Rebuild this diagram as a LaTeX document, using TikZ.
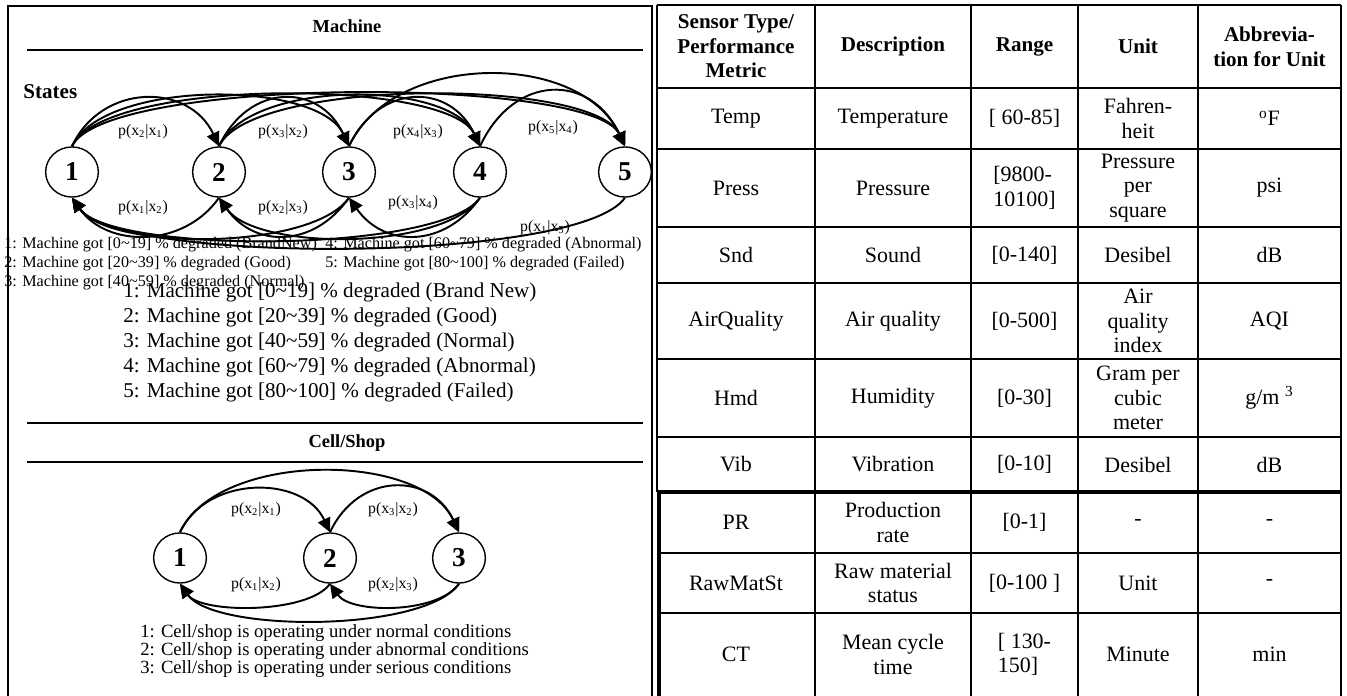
\documentclass[tikz,border=0pt]{standalone}
\usepackage{fontspec}
\setmainfont{Liberation Serif}
\usepackage{tikz}
\usetikzlibrary{shapes, arrows.meta, positioning, calc}

\newcommand{\tlde}{\textasciitilde}

\begin{document}
\begin{tikzpicture}[x=0.02cm, y=0.02cm,
    stnode/.style={draw, ellipse, thick, minimum width=30pt, minimum height=28.5pt, inner sep=0pt, font=\fontsize{15.5}{15.5}\selectfont\bfseries},
    trans/.style={-{Triangle[length=8pt,width=7.5pt]}, line width=1.1pt},
    prob/.style={font=\fontsize{9}{10}\selectfont, inner sep=1pt},
    rule/.style={line width=1.2pt},
    title/.style={font=\fontsize{10.5}{12}\selectfont\bfseries},
    smalltxt/.style={anchor=west, inner sep=0pt, font=\fontsize{9.2}{10}\selectfont},
    cellt/.style={align=center, inner sep=0pt, font=\fontsize{12.5}{14}\selectfont},
    headt/.style={align=center, inner sep=0pt, font=\fontsize{12}{14}\selectfont\bfseries}]

    \useasboundingbox (0,0) rectangle (1347,-696);

    % left panel frame and rules
    \draw[rule] (8,-696) -- (8,-6) -- (652,-6) -- (652,-696);
    \draw[rule] (27,-50) -- (643,-50);
    \draw[rule] (27,-423) -- (643,-423);
    \draw[rule] (27,-462) -- (643,-462);

    \node[title] (machine) at (347,-26) {Machine};
    \node[title, font=\fontsize{12}{12}\selectfont\bfseries, anchor=west, inner sep=0pt] (states) at (23,-92) {States};
    \node[title] (cellshop) at (347,-443) {Cell/Shop};

    % machine states
    \node[smalltxt] (s1) at (4,-245) {1: Machine got [0\tlde19] \% degraded (BrandNew)};
    \node[smalltxt] (s2) at (4,-264) {2: Machine got [20\tlde39] \% degraded (Good)};
    \node[smalltxt] (s3) at (4,-283) {3: Machine got [40\tlde59] \% degraded (Normal)};
    \node[smalltxt] (s4) at (325,-245) {4: Machine got [60\tlde79] \% degraded (Abnormal)};
    \node[smalltxt] (s5) at (325,-264) {5: Machine got [80\tlde100] \% degraded (Failed)};

    \node[anchor=west, align=left, inner sep=0pt, font=\fontsize{12}{14.1}\selectfont] (mlegend) at (123,-342.5)
        {1: Machine got [0\tlde19] \% degraded (Brand New)\\
         2: Machine got [20\tlde39] \% degraded (Good)\\
         3: Machine got [40\tlde59] \% degraded (Normal)\\
         4: Machine got [60\tlde79] \% degraded (Abnormal)\\
         5: Machine got [80\tlde100] \% degraded (Failed)};

    \node[stnode] (M1) at (72,-172) {1};
    \node[stnode] (M2) at (219,-172) {2};
    \node[stnode] (M3) at (349,-172) {3};
    \node[stnode] (M4) at (480,-172) {4};
    \node[stnode] (M5) at (625,-172) {5};

    \draw[trans] (M1.north) to[out=65, in=115, distance=40pt] (M2.north);
    \draw[trans] (M1.north) to[out=65, in=115, distance=42pt] (M3.north);
    \draw[trans] (M1.north) to[out=65, in=115, distance=43pt] (M4.north);
    \draw[trans] (M1.north) to[out=65, in=115, distance=44pt] (M5.north);
    \draw[trans] (M2.north) to[out=65, in=115, distance=40pt] (M3.north);
    \draw[trans] (M2.north) to[out=65, in=115, distance=42pt] (M4.north);
    \draw[trans] (M2.north) to[out=65, in=115, distance=43pt] (M5.north);
    \draw[trans] (M3.north) to[out=65, in=115, distance=40pt] (M4.north);
    \draw[trans] (M3.north) to[out=65, in=115, distance=60pt] (M5.north);
    \draw[trans] (M4.north) to[out=65, in=115, distance=46pt] (M5.north);

    \draw[trans] (M2.south) to[out=235, in=305, distance=35pt] (M1.south);
    \draw[trans] (M3.south) to[out=235, in=305, distance=35pt] (M2.south);
    \draw[trans] (M3.south) to[out=235, in=305, distance=37pt] (M1.south);
    \draw[trans] (M4.south) to[out=235, in=305, distance=35pt] (M3.south);
    \draw[trans] (M4.south) to[out=235, in=305, distance=37pt] (M2.south);
    \draw[trans] (M4.south) to[out=235, in=305, distance=39pt] (M1.south);
    \draw[trans] (M5.south) to[out=235, in=305, distance=46pt] (M1.south);

    \node[prob] (p21) at (143,-132) {p(x\textsubscript{2}|x\textsubscript{1})};
    \node[prob] (p32) at (283,-132) {p(x\textsubscript{3}|x\textsubscript{2})};
    \node[prob] (p43) at (418,-132) {p(x\textsubscript{4}|x\textsubscript{3})};
    \node[prob] (p54) at (553,-128) {p(x\textsubscript{5}|x\textsubscript{4})};
    \node[prob] (p12) at (143,-208) {p(x\textsubscript{1}|x\textsubscript{2})};
    \node[prob] (p23) at (283,-208) {p(x\textsubscript{2}|x\textsubscript{3})};
    \node[prob] (p34) at (413,-203) {p(x\textsubscript{3}|x\textsubscript{4})};
    \node[prob] (p15) at (545,-228) {p(x\textsubscript{1}|x\textsubscript{5})};

    % cell/shop states
    \node[stnode] (C1) at (180,-558) {1};
    \node[stnode] (C2) at (330,-558) {2};
    \node[stnode] (C3) at (459,-558) {3};

    \draw[trans] (C1.north) to[out=65, in=115, distance=36pt] (C2.north);
    \draw[trans] (C1.north) to[out=65, in=115, distance=51pt] (C3.north);
    \draw[trans] (C2.north) to[out=65, in=115, distance=38pt] (C3.north);
    \draw[trans] (C2.south) to[out=235, in=305, distance=21pt] (C1.south);
    \draw[trans] (C3.south) to[out=235, in=305, distance=21pt] (C2.south);
    \draw[trans] (C3.south) to[out=235, in=305, distance=34pt] (C1.south);

    \node[prob] (q21) at (256,-510) {p(x\textsubscript{2}|x\textsubscript{1})};
    \node[prob] (q32) at (393,-510) {p(x\textsubscript{3}|x\textsubscript{2})};
    \node[prob] (q12) at (256,-585) {p(x\textsubscript{1}|x\textsubscript{2})};
    \node[prob] (q23) at (393,-585) {p(x\textsubscript{2}|x\textsubscript{3})};

    \node[anchor=west, align=left, inner sep=0pt, font=\fontsize{10.6}{10.4}\selectfont] (clegend) at (140,-651)
        {1: Cell/shop is operating under normal conditions\\
         2: Cell/shop is operating under abnormal conditions\\
         3: Cell/shop is operating under serious conditions};

    % sensor table
    \foreach \y in {5,88,149,227,283,359,437,553,613}
        \draw[rule] (657,-\y) -- (1341,-\y);
    \foreach \x in {815,971,1078,1198,1341}
        \draw[rule] (\x,-5) -- (\x,-696);
    \draw[rule] (657,-5) -- (657,-492);
    \draw[line width=2.6pt] (659,-696) -- (659,-492) -- (1341,-492);

    \node[headt] (h1) at (736,-46.5) {Sensor Type/\\Performance\\Metric};
    \node[headt] (h2) at (893,-46.5) {Description};
    \node[headt] (h3) at (1024.5,-46.5) {Range};
    \node[headt] (h4) at (1138,-46.5) {Unit};
    \node[headt] (h5) at (1269.5,-46.5) {Abbrevia-\\tion for Unit};

    \node[cellt] (n1) at (736,-118.5) {Temp};
    \node[cellt] (d1) at (893,-118.5) {Temperature};
    \node[cellt] (r1) at (1024.5,-118.5) {[ 60-85]};
    \node[cellt] (u1) at (1138,-118.5) {Fahren-\\heit};
    \node[cellt] (a1) at (1269.5,-118.5) {\textsuperscript{o}F};

    \node[cellt] (n2) at (736,-188) {Press};
    \node[cellt] (d2) at (893,-188) {Pressure};
    \node[cellt, align=left] (r2) at (1024.5,-188) {[9800-\\10100]};
    \node[cellt] (u2) at (1138,-188) {Pressure\\per\\square};
    \node[cellt] (a2) at (1269.5,-188) {psi};

    \node[cellt] (n3) at (736,-255) {Snd};
    \node[cellt] (d3) at (893,-255) {Sound};
    \node[cellt] (r3) at (1024.5,-255) {[0-140]};
    \node[cellt] (u3) at (1138,-255) {Desibel};
    \node[cellt] (a3) at (1269.5,-255) {dB};

    \node[cellt] (n4) at (736,-321) {AirQuality};
    \node[cellt] (d4) at (893,-321) {Air quality};
    \node[cellt] (r4) at (1024.5,-321) {[0-500]};
    \node[cellt] (u4) at (1138,-321) {Air\\quality\\index};
    \node[cellt] (a4) at (1269.5,-321) {AQI};

    \node[cellt] (n5) at (736,-398) {Hmd};
    \node[cellt] (d5) at (893,-398) {Humidity};
    \node[cellt] (r5) at (1024.5,-398) {[0-30]};
    \node[cellt] (u5) at (1138,-398) {Gram per\\cubic\\meter};
    \node[cellt] (a5) at (1269.5,-398) {g/m \textsuperscript{3}};

    \node[cellt] (n6) at (736,-464.5) {Vib};
    \node[cellt] (d6) at (893,-464.5) {Vibration};
    \node[cellt] (r6) at (1024.5,-464.5) {[0-10]};
    \node[cellt] (u6) at (1138,-464.5) {Desibel};
    \node[cellt] (a6) at (1269.5,-464.5) {dB};

    \node[cellt] (n7) at (736,-522.5) {PR};
    \node[cellt] (d7) at (893,-522.5) {Production\\rate};
    \node[cellt] (r7) at (1024.5,-522.5) {[0-1]};
    \node[cellt] (u7) at (1138,-522.5) {-};
    \node[cellt] (a7) at (1269.5,-522.5) {-};

    \node[cellt] (n8) at (736,-583) {RawMatSt};
    \node[cellt] (d8) at (893,-583) {Raw material\\status};
    \node[cellt] (r8) at (1024.5,-583) {[0-100 ]};
    \node[cellt] (u8) at (1138,-583) {Unit};
    \node[cellt] (a8) at (1269.5,-583) {-};

    \node[cellt] (n9) at (736,-654.5) {CT};
    \node[cellt] (d9) at (893,-654.5) {Mean cycle\\time};
    \node[cellt, align=left] (r9) at (1024.5,-654.5) {[ 130-\\150]};
    \node[cellt] (u9) at (1138,-654.5) {Minute};
    \node[cellt] (a9) at (1269.5,-654.5) {min};
\end{tikzpicture}
\end{document}
